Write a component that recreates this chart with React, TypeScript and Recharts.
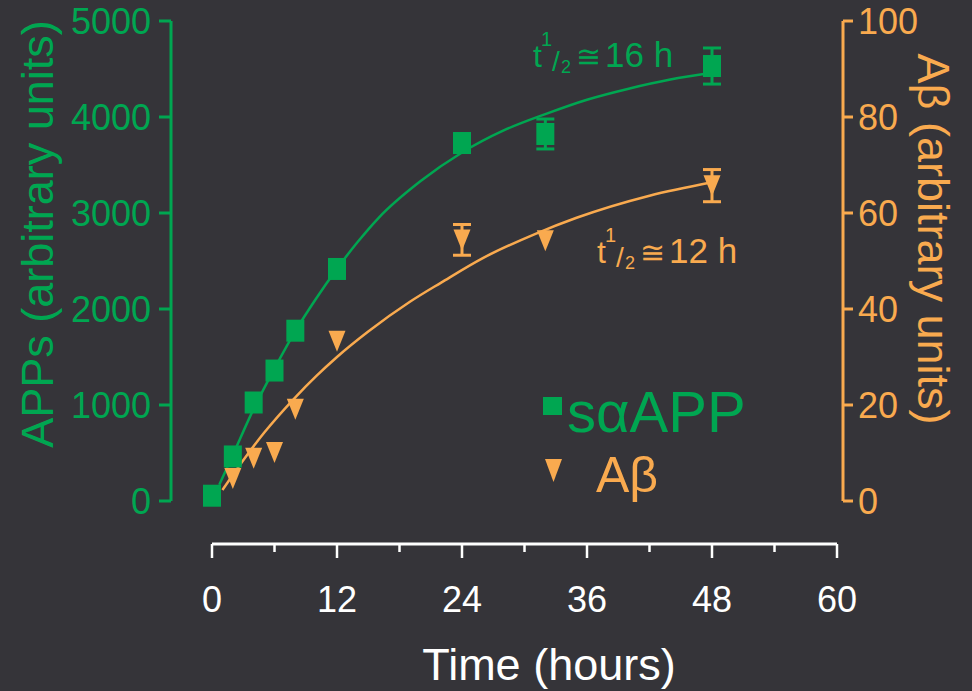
import React from 'react';
import {
  ComposedChart,
  Line,
  Scatter,
  XAxis,
  YAxis,
  ErrorBar,
  ReferenceLine,
  Legend,
} from 'recharts';

// ---------- data ----------
const sappHours = [0, 2, 4, 6, 8, 12, 24, 32, 48];
const sappValues = [55, 464, 1026, 1359, 1774, 2417, 3729, 3823, 4531];
const sappErrors = [null, null, null, null, null, null, null, 156, 188];

const abetaHours = [2, 4, 6, 8, 12, 24, 32, 48];
const abetaValues = [4.7, 8.9, 10.1, 19.1, 33.3, 54.4, 54.2, 65.7];
const abetaErrors = [null, null, null, null, null, 3.2, null, 3.35];

// fitted curves, points
const sappFitHours = [0.7, 2, 4, 6, 8, 10, 12, 14, 16, 20, 24, 28, 32, 36, 40, 44, 48];
const sappFitValues = [170, 480, 960, 1380, 1770, 2110, 2420, 2700, 2950, 3330, 3630, 3860, 4030, 4180, 4295, 4390, 4460];
const abetaFitHours = [1, 3, 5, 8, 10, 12, 15, 19, 22, 26, 31, 35, 42, 48];
const abetaFitValues = [2.3, 8.5, 14.2, 21.6, 26, 30, 35.3, 41.5, 45.5, 50.6, 55.6, 59, 63.6, 66.4];

const xTicks = [0, 6, 12, 18, 24, 30, 36, 42, 48, 54, 60];
const leftTicks = [0, 1000, 2000, 3000, 4000, 5000];
const rightTicks = [0, 20, 40, 60, 80, 100];

const sappName = 'sαAPP';
const abetaName = 'Aβ';
const sappHalf = '16 h';
const abetaHalf = '12 h';

// ---------- styling / layout ----------
const W = 972;
const H = 691;
const BG = '#353439';
const GREEN = '#00A651';
const ORANGE = '#F9AA4F';
const WHITE = '#FFFFFF';
const FONT = '"Liberation Sans", Arial, Helvetica, sans-serif';

const PLOT_LEFT = 171;
const PLOT_RIGHT = 843;
const PLOT_TOP = 21;
const PLOT_BOTTOM = 544;
const ZERO_Y = 501;
const X0_PX = 212;
const X60_PX = 837;

const pxPerHour = (X60_PX - X0_PX) / 60;
const xMin = -(X0_PX - PLOT_LEFT) / pxPerHour;
const xMax = 60 + (PLOT_RIGHT - X60_PX) / pxPerHour;
const leftMax = 5000;
const rightMax = 100;
const leftMin = (-leftMax * (PLOT_BOTTOM - ZERO_Y)) / (ZERO_Y - PLOT_TOP);
const rightMin = (-rightMax * (PLOT_BOTTOM - ZERO_Y)) / (ZERO_Y - PLOT_TOP);

const sappData = sappHours.map((t, i) => ({ t, v: sappValues[i], e: sappErrors[i] ?? undefined }));
const abetaData = abetaHours.map((t, i) => ({ t, v: abetaValues[i], e: abetaErrors[i] ?? undefined }));
const sappFit = sappFitHours.map((t, i) => ({ t, v: sappFitValues[i] }));
const abetaFit = abetaFitHours.map((t, i) => ({ t, v: abetaFitValues[i] }));

const SquareShape = (props: any) => {
  const { cx, cy } = props;
  if (cx == null || cy == null) return null;
  return <rect x={cx - 9} y={cy - 11} width={18} height={22} fill={GREEN} />;
};

const TriangleShape = (props: any) => {
  const { cx, cy } = props;
  if (cx == null || cy == null) return null;
  return (
    <polygon
      points={`${cx - 8.5},${cy - 10.5} ${cx + 8.5},${cy - 10.5} ${cx},${cy + 10.5}`}
      fill={ORANGE}
    />
  );
};

const XTick = (props: any) => {
  const { x, y, payload } = props;
  const v = payload?.value;
  const major = v % 12 === 0;
  return (
    <g>
      <line x1={x} y1={y} x2={x} y2={y + (major ? 14 : 8)} stroke={WHITE} strokeWidth={2.5} />
      {major && (
        <text x={x} y={y + 68} textAnchor="middle" fill={WHITE} fontSize={36} fontFamily={FONT}>
          {v}
        </text>
      )}
    </g>
  );
};

const HalfLife = ({ x, y, color, value }: { x: number; y: number; color: string; value: string }) => (
  <g fill={color} fontFamily={FONT}>
    <text x={x} y={y} fontSize={32}>t</text>
    <text x={x + 8} y={y - 21} fontSize={20}>1</text>
    <text x={x + 19} y={y + 4} fontSize={28}>/</text>
    <text x={x + 28} y={y + 6} fontSize={18}>2</text>
    <text x={x + 43} y={y} fontSize={30}>≅</text>
    <text x={x + 72} y={y} fontSize={35}>{value}</text>
  </g>
);

const LegendContent = (props: any) => {
  const items = (props.payload || []).filter((p: any) => p.type !== 'none');
  return (
    <svg width={240} height={125} style={{ display: 'block', overflow: 'visible' }}>
      {items.map((entry: any, i: number) => {
        const isSapp = entry.value === sappName;
        if (isSapp) {
          return (
            <g key={i}>
              <rect x={3} y={12} width={19} height={18} fill={GREEN} />
              <text x={27} y={47} fill={GREEN} fontSize={58} fontFamily={FONT}>
                {entry.value}
              </text>
            </g>
          );
        }
        return (
          <g key={i}>
            <polygon points="5,74 22,74 13.5,97" fill={ORANGE} />
            <text x={56} y={107} fill={ORANGE} fontSize={50} fontFamily={FONT}>
              {entry.value}
            </text>
          </g>
        );
      })}
    </svg>
  );
};

export default function App() {
  return (
    <div style={{ position: 'absolute', left: 0, top: 0, width: W, height: H, background: BG }}>
      <ComposedChart width={W} height={H} margin={{ top: PLOT_TOP, right: 0, bottom: 0, left: 0 }}>
        <XAxis
          dataKey="t"
          type="number"
          domain={[xMin, xMax]}
          allowDataOverflow
          ticks={xTicks}
          interval={0}
          axisLine={false}
          tickLine={false}
          tickSize={0}
          tickMargin={0}
          height={H - PLOT_BOTTOM}
          tick={(p: any) => <XTick {...p} />}
          label={(p: any) => {
            const vb = p.viewBox || { x: PLOT_LEFT, y: PLOT_BOTTOM };
            return (
              <text x={vb.x + 378} y={vb.y + 136} textAnchor="middle" fill={WHITE} fontSize={45} fontFamily={FONT}>
                Time (hours)
              </text>
            );
          }}
        />
        <YAxis
          yAxisId="left"
          orientation="left"
          width={PLOT_LEFT}
          domain={[leftMin, leftMax]}
          allowDataOverflow
          ticks={leftTicks}
          interval={0}
          axisLine={false}
          stroke={GREEN}
          tickLine={{ stroke: GREEN, strokeWidth: 3 }}
          tickSize={12}
          tickMargin={8}
          tick={{ fill: GREEN, fontSize: 36, fontFamily: FONT }}
          label={(p: any) => {
            const vb = p.viewBox || { x: 0, y: PLOT_TOP };
            const x = vb.x + 53;
            const y = vb.y + 213;
            return (
              <text x={x} y={y} transform={`rotate(-90, ${x}, ${y})`} textAnchor="middle" fill={GREEN} fontSize={45} fontFamily={FONT}>
                APPs (arbitrary units)
              </text>
            );
          }}
        />
        <YAxis
          yAxisId="right"
          orientation="right"
          width={W - PLOT_RIGHT}
          domain={[rightMin, rightMax]}
          allowDataOverflow
          ticks={rightTicks}
          interval={0}
          axisLine={false}
          stroke={ORANGE}
          tickLine={{ stroke: ORANGE, strokeWidth: 3 }}
          tickSize={10}
          tickMargin={5}
          tick={{ fill: ORANGE, fontSize: 36, fontFamily: FONT }}
          label={(p: any) => {
            const vb = p.viewBox || { x: PLOT_RIGHT, y: PLOT_TOP };
            const x = vb.x + 75;
            const y = vb.y + 218;
            return (
              <text x={x} y={y} transform={`rotate(90, ${x}, ${y})`} textAnchor="middle" fill={ORANGE} fontSize={45} fontFamily={FONT}>
                Aβ (arbitrary units)
              </text>
            );
          }}
        />

        <ReferenceLine
          yAxisId="left"
          ifOverflow="visible"
          segment={[{ x: xMin, y: 0 }, { x: xMin, y: leftMax }]}
          stroke={GREEN}
          strokeWidth={3}
        />
        <ReferenceLine
          yAxisId="right"
          ifOverflow="visible"
          segment={[{ x: xMax, y: 0 }, { x: xMax, y: rightMax }]}
          stroke={ORANGE}
          strokeWidth={3}
        />
        <ReferenceLine
          yAxisId="left"
          ifOverflow="visible"
          segment={[{ x: 0, y: leftMin }, { x: 60, y: leftMin }]}
          stroke={WHITE}
          strokeWidth={3}
        />

        <Line
          data={sappFit}
          dataKey="v"
          yAxisId="left"
          type="monotone"
          stroke={GREEN}
          strokeWidth={2.5}
          dot={false}
          activeDot={false}
          legendType="none"
          isAnimationActive={false}
        />
        <Line
          data={abetaFit}
          dataKey="v"
          yAxisId="right"
          type="monotone"
          stroke={ORANGE}
          strokeWidth={2.5}
          dot={false}
          activeDot={false}
          legendType="none"
          isAnimationActive={false}
        />

        <Scatter
          name={sappName}
          data={sappData}
          dataKey="v"
          yAxisId="left"
          fill={GREEN}
          shape={SquareShape}
          isAnimationActive={false}
        >
          <ErrorBar dataKey="e" direction="y" width={9} stroke={GREEN} strokeWidth={3} />
        </Scatter>
        <Scatter
          name={abetaName}
          data={abetaData}
          dataKey="v"
          yAxisId="right"
          fill={ORANGE}
          shape={TriangleShape}
          isAnimationActive={false}
        >
          <ErrorBar dataKey="e" direction="y" width={9} stroke={ORANGE} strokeWidth={3} />
        </Scatter>

        <Legend
          layout="horizontal"
          verticalAlign="middle"
          align="center"
          content={LegendContent}
          wrapperStyle={{ left: 540, top: 385, width: 240, height: 125, margin: 0, padding: 0 }}
        />

        <HalfLife x={533} y={67} color={GREEN} value={sappHalf} />
        <HalfLife x={597} y={263} color={ORANGE} value={abetaHalf} />
      </ComposedChart>
    </div>
  );
}
